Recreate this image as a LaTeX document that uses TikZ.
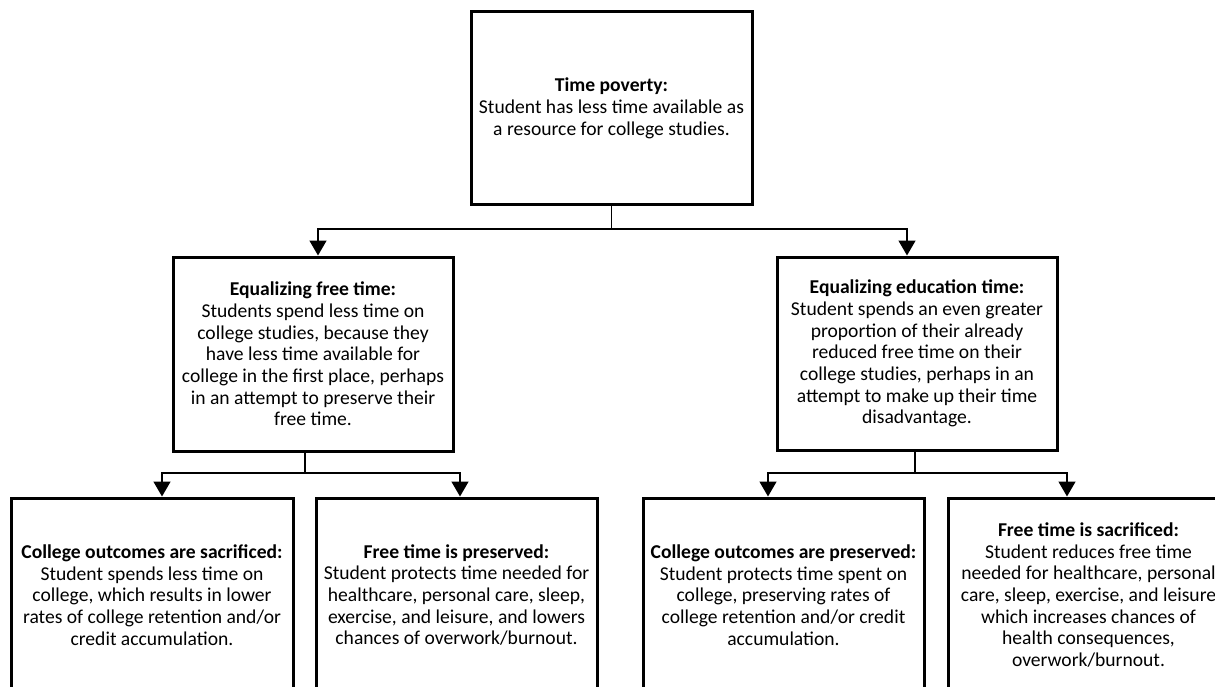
\documentclass[tikz,border=0pt]{standalone}
\usepackage{fontspec}
\setmainfont{Carlito}
\usetikzlibrary{arrows.meta}
\begin{document}
\begin{tikzpicture}[x=1pt,y=-1pt,
  box/.style={draw, line width=3pt, rectangle, inner sep=0pt, align=center,
    font=\fontsize{19.6}{21.7}\selectfont},
  conn/.style={line width=1.5pt},
  arr/.style={conn, -{Triangle[width=17pt,length=15pt]}}]
\useasboundingbox (0,0) rectangle (1215,687);
\clip (0,0) rectangle (1215,687);

\node[box, minimum width=281, minimum height=193] (top) at (611.5,108.5)
  {\textbf{Time poverty:}\\Student has less time available as\\a resource for college studies.};

\node[box, minimum width=280, minimum height=194] (midL) at (313,354)
  {\textbf{Equalizing free time:}\\Students spend less time on\\college studies, because they\\have less time available for\\college in the first place, perhaps\\in an attempt to preserve their\\free time.};

\node[box, minimum width=280, minimum height=193] (midR) at (917,353.5)
  {\textbf{Equalizing education time:}\\Student spends an even greater\\proportion of their already\\reduced free time on their\\college studies, perhaps in an\\attempt to make up their time\\disadvantage.};

\node[box, minimum width=282, minimum height=194] (b1) at (152,595)
  {\textbf{College outcomes are sacrificed:}\\Student spends less time on\\college, which results in lower\\rates of college retention and/or\\credit accumulation.};

\node[box, minimum width=281, minimum height=194] (b2) at (456.5,595)
  {\textbf{Free time is preserved:}\\Student protects time needed for\\healthcare, personal care, sleep,\\exercise, and leisure, and lowers\\chances of overwork/burnout.};

\node[box, minimum width=281, minimum height=194] (b3) at (783.5,595)
  {\textbf{College outcomes are preserved:}\\Student protects time spent on\\college, preserving rates of\\college retention and/or credit\\accumulation.};

\node[box, minimum width=281, minimum height=194] (b4) at (1088.5,595)
  {\textbf{Free time is sacrificed:}\\Student reduces free time\\needed for healthcare, personal\\care, sleep, exercise, and leisure\\which increases chances of\\health consequences,\\overwork/burnout.};

% connectors
\coordinate (t1) at (318,229);
\coordinate (t2) at (907,229);
\coordinate (l1) at (162,473);
\coordinate (l2) at (460,473);
\coordinate (r1) at (768,473);
\coordinate (r2) at (1067,473);

\draw[conn] (top.south) -- (top.south |- t1);
\draw[arr] (top.south |- t1) -- (t1) -- (t1 |- midL.north);
\draw[arr] (top.south |- t2) -- (t2) -- (t2 |- midR.north);

\coordinate (sL) at (305,451);
\coordinate (sR) at (915,450);
\draw[conn] (sL) -- (sL |- l1);
\draw[arr] (sL |- l1) -- (l1) -- (l1 |- b1.north);
\draw[arr] (sL |- l2) -- (l2) -- (l2 |- b2.north);
\draw[conn] (sR) -- (sR |- r1);
\draw[arr] (sR |- r1) -- (r1) -- (r1 |- b3.north);
\draw[arr] (sR |- r2) -- (r2) -- (r2 |- b4.north);
\end{tikzpicture}
\end{document}
